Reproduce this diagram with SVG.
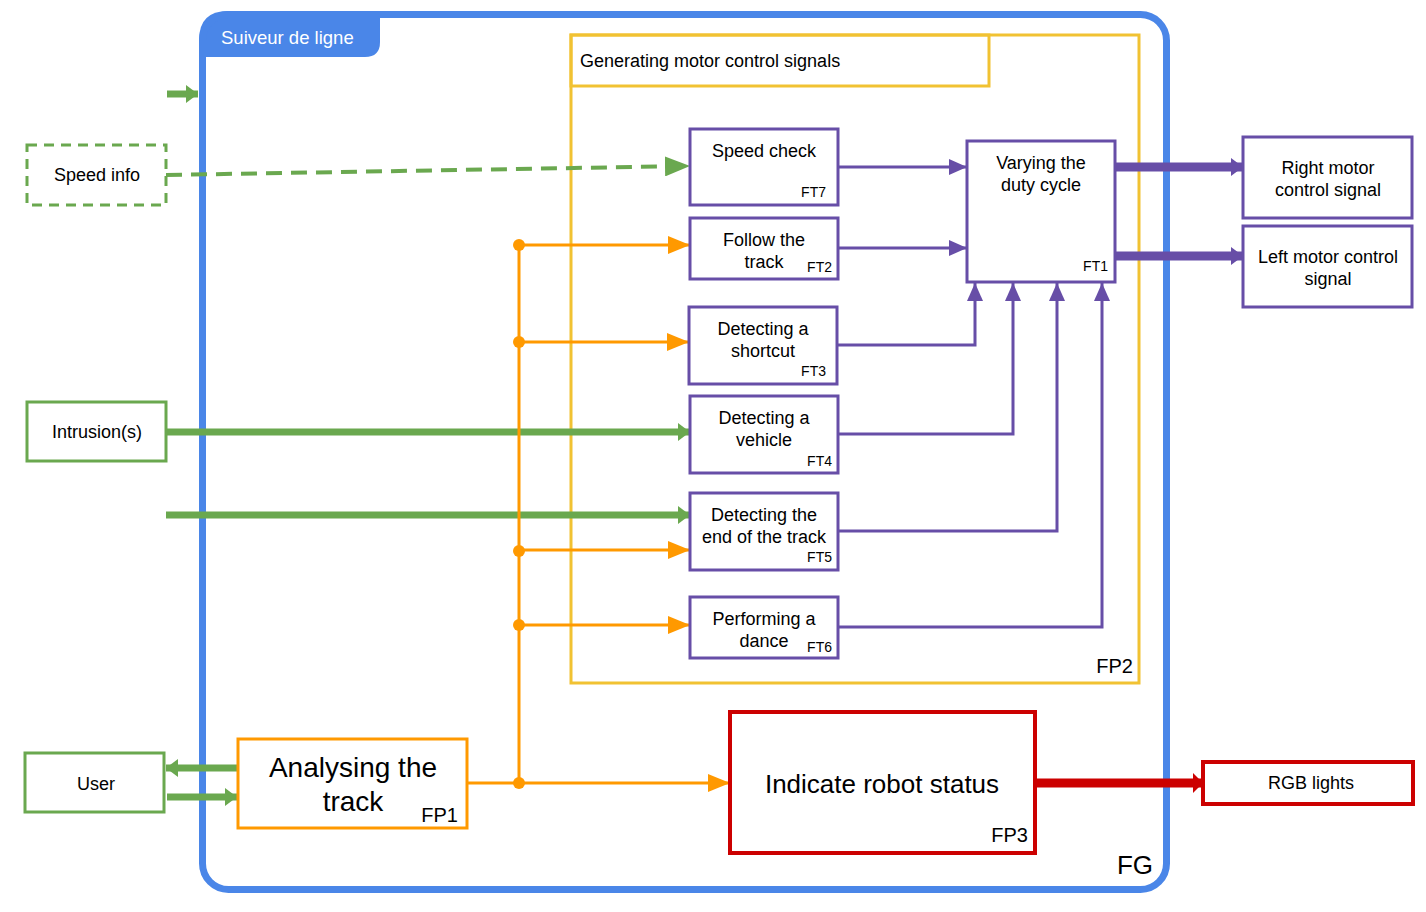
<svg xmlns="http://www.w3.org/2000/svg" width="1426" height="912" viewBox="0 0 1426 912">
<style>
text{font-family:"Liberation Sans",Arial,sans-serif;fill:#000}
.c{text-anchor:middle}
.r{text-anchor:end}
.ft{font-size:18px}
.tag{font-size:14px}
.pur{stroke:#674EA7;stroke-width:3;fill:#fff}
.grn{stroke:#6AA84F;stroke-width:3;fill:#fff}
.red{stroke:#CC0000;stroke-width:4;fill:#fff}
.ora{stroke:#FF9900;stroke-width:3;fill:#fff}
.yel{stroke:#F1C232;stroke-width:3;fill:none}
.lp{stroke:#674EA7;stroke-width:3;fill:none}
.lo{stroke:#FF9900;stroke-width:3;fill:none}
.lg{stroke:#6AA84F;stroke-width:7;fill:none}
</style>
<defs>
<marker id="ap" markerUnits="userSpaceOnUse" markerWidth="18" markerHeight="16" refX="18" refY="8" orient="auto"><path d="M0,0 L18,8 L0,16 z" fill="#674EA7"/></marker>
<marker id="apt" markerUnits="userSpaceOnUse" markerWidth="12" markerHeight="18" refX="12" refY="9" orient="auto"><path d="M0,0 L12,9 L0,18 z" fill="#674EA7"/></marker>
<marker id="ao" markerUnits="userSpaceOnUse" markerWidth="22" markerHeight="18" refX="22" refY="9" orient="auto"><path d="M0,0 L22,9 L0,18 z" fill="#FF9900"/></marker>
<marker id="ag" markerUnits="userSpaceOnUse" markerWidth="12" markerHeight="18" refX="12" refY="9" orient="auto"><path d="M0,0 L12,9 L0,18 z" fill="#6AA84F"/></marker>
<marker id="agd" markerUnits="userSpaceOnUse" markerWidth="25" markerHeight="20" refX="25" refY="10" orient="auto"><path d="M0,0 L25,10 L0,20 z" fill="#6AA84F"/></marker>
<marker id="ar" markerUnits="userSpaceOnUse" markerWidth="10" markerHeight="20" refX="10" refY="10" orient="auto"><path d="M0,0 L10,10 L0,20 z" fill="#CC0000"/></marker>
</defs>

<g id="FG">
<path d="M199,57 L199,40 Q199,11 228,11 L380,11 L380,42 Q380,57 365,57 Z" fill="#4A86E8"/>
<rect x="202.5" y="14.5" width="964" height="875" rx="26" fill="none" stroke="#4A86E8" stroke-width="7"/>
<text x="221" y="44" style="font-size:18.5px;fill:#fff">Suiveur de ligne</text>
<text x="1153" y="874" class="r" style="font-size:26px">FG</text>
</g>

<g id="FP2">
<rect x="571" y="35" width="568" height="648" class="yel"/>
<rect x="571" y="35" width="418" height="51" class="yel"/>
<text x="580" y="67" style="font-size:18px">Generating motor control signals</text>
<text x="1133" y="673" class="r" style="font-size:20px">FP2</text>
</g>

<g id="connectors">
<line x1="167" y1="94" x2="198" y2="94" class="lg" marker-end="url(#ag)"/>
<path d="M166,175 L690,166" stroke="#6AA84F" stroke-width="4" stroke-dasharray="16,9" fill="none" marker-end="url(#agd)"/>
<line x1="166" y1="432" x2="690" y2="432" class="lg" marker-end="url(#ag)"/>
<line x1="166" y1="515" x2="690" y2="515" class="lg" marker-end="url(#ag)"/>
<line x1="237" y1="768" x2="166" y2="768" class="lg" marker-end="url(#ag)"/>
<line x1="167" y1="797" x2="237" y2="797" class="lg" marker-end="url(#ag)"/>
<line x1="519" y1="245" x2="519" y2="783" class="lo"/>
<line x1="467" y1="783" x2="730" y2="783" class="lo" marker-end="url(#ao)"/>
<line x1="519" y1="245" x2="690" y2="245" class="lo" marker-end="url(#ao)"/>
<line x1="519" y1="342" x2="689" y2="342" class="lo" marker-end="url(#ao)"/>
<line x1="519" y1="550" x2="690" y2="550" class="lo" marker-end="url(#ao)"/>
<line x1="519" y1="625" x2="690" y2="625" class="lo" marker-end="url(#ao)"/>
<g fill="#FF9900">
<circle cx="519" cy="245" r="6"/><circle cx="519" cy="342" r="6"/><circle cx="519" cy="551" r="6"/><circle cx="519" cy="625" r="6"/><circle cx="519" cy="783" r="6"/>
</g>
<line x1="838" y1="167" x2="967" y2="167" class="lp" marker-end="url(#ap)"/>
<line x1="838" y1="248" x2="967" y2="248" class="lp" marker-end="url(#ap)"/>
<path d="M837,345 H975 V283" class="lp" marker-end="url(#ap)"/>
<path d="M838,434 H1013 V283" class="lp" marker-end="url(#ap)"/>
<path d="M838,531 H1057 V283" class="lp" marker-end="url(#ap)"/>
<path d="M838,627 H1102 V283" class="lp" marker-end="url(#ap)"/>
<line x1="1116" y1="167" x2="1243" y2="167" stroke="#674EA7" stroke-width="9" marker-end="url(#apt)"/>
<line x1="1116" y1="256" x2="1243" y2="256" stroke="#674EA7" stroke-width="9" marker-end="url(#apt)"/>
<line x1="1036" y1="783" x2="1203" y2="783" stroke="#CC0000" stroke-width="9" marker-end="url(#ar)"/>
</g>

<g id="speed-info">
<rect x="27" y="145" width="139" height="60" fill="#fff" stroke="#6AA84F" stroke-width="3" stroke-dasharray="10,7"/>
<text x="97" y="181" class="c ft">Speed info</text>
</g>
<g id="intrusions">
<rect x="27" y="402" width="139" height="59" class="grn"/>
<text x="97" y="438" class="c ft">Intrusion(s)</text>
</g>
<g id="user">
<rect x="25" y="753" width="139" height="59" class="grn"/>
<text x="96" y="790" class="c ft">User</text>
</g>

<g id="FP1">
<rect x="238" y="739" width="229" height="89" class="ora"/>
<text x="353" y="777" class="c" style="font-size:28px">Analysing the</text>
<text x="353" y="811" class="c" style="font-size:28px">track</text>
<text x="458" y="822" class="r" style="font-size:20px">FP1</text>
</g>

<g id="FT7">
<rect x="690" y="129" width="148" height="76" class="pur"/>
<text x="764" y="157" class="c ft">Speed check</text>
<text x="826" y="197" class="r tag">FT7</text>
</g>
<g id="FT2">
<rect x="690" y="218" width="148" height="61" class="pur"/>
<text x="764" y="246" class="c ft">Follow the</text>
<text x="764" y="268" class="c ft">track</text>
<text x="832" y="272" class="r tag">FT2</text>
</g>
<g id="FT3">
<rect x="689" y="307" width="148" height="77" class="pur"/>
<text x="763" y="335" class="c ft">Detecting a</text>
<text x="763" y="357" class="c ft">shortcut</text>
<text x="826" y="376" class="r tag">FT3</text>
</g>
<g id="FT4">
<rect x="690" y="396" width="148" height="77" class="pur"/>
<text x="764" y="424" class="c ft">Detecting a</text>
<text x="764" y="446" class="c ft">vehicle</text>
<text x="832" y="466" class="r tag">FT4</text>
</g>
<g id="FT5">
<rect x="690" y="493" width="148" height="77" class="pur"/>
<text x="764" y="521" class="c ft">Detecting the</text>
<text x="764" y="543" class="c ft">end of the track</text>
<text x="832" y="562" class="r tag">FT5</text>
</g>
<g id="FT6">
<rect x="690" y="597" width="148" height="61" class="pur"/>
<text x="764" y="625" class="c ft">Performing a</text>
<text x="764" y="647" class="c ft">dance</text>
<text x="832" y="652" class="r tag">FT6</text>
</g>
<g id="FT1">
<rect x="967" y="141" width="148" height="141" class="pur"/>
<text x="1041" y="169" class="c ft">Varying the</text>
<text x="1041" y="191" class="c ft">duty cycle</text>
<text x="1108" y="271" class="r tag">FT1</text>
</g>

<g id="right-motor">
<rect x="1243" y="137" width="169" height="81" class="pur"/>
<text x="1328" y="174" class="c ft">Right motor</text>
<text x="1328" y="196" class="c ft">control signal</text>
</g>
<g id="left-motor">
<rect x="1243" y="226" width="169" height="81" class="pur"/>
<text x="1328" y="263" class="c ft">Left motor control</text>
<text x="1328" y="285" class="c ft">signal</text>
</g>

<g id="FP3">
<rect x="730" y="712" width="305" height="141" class="red"/>
<text x="882" y="793" class="c" style="font-size:26px">Indicate robot status</text>
<text x="1028" y="842" class="r" style="font-size:20px">FP3</text>
</g>
<g id="rgb">
<rect x="1203" y="762" width="210" height="42" class="red"/>
<text x="1311" y="789" class="c ft">RGB lights</text>
</g>
</svg>
